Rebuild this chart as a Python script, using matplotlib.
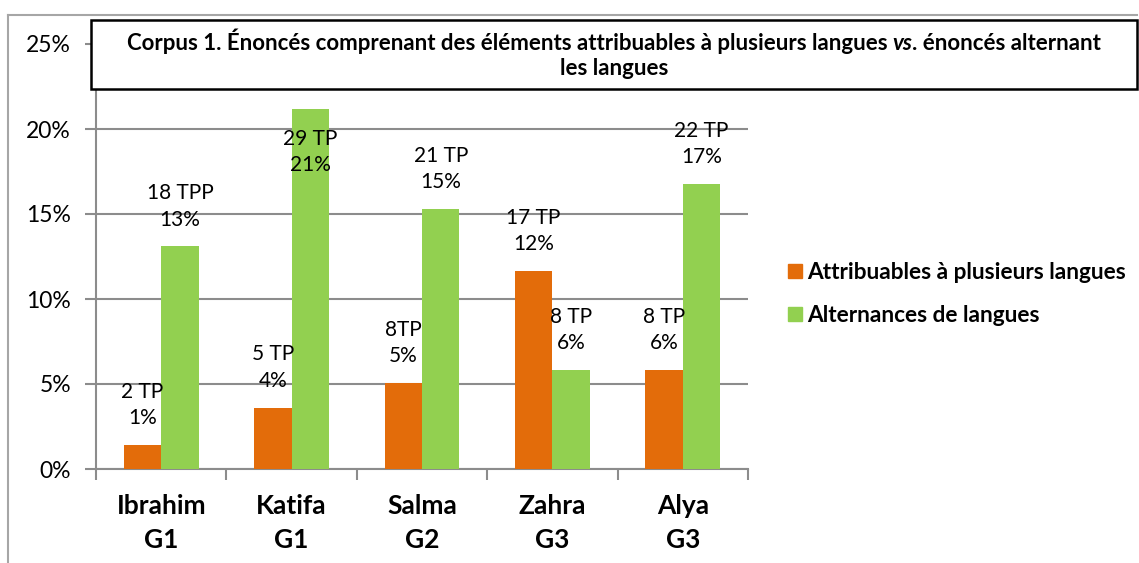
import numpy as np
import matplotlib
matplotlib.use("Agg")
import matplotlib.pyplot as plt
from matplotlib.patches import Rectangle
from matplotlib.lines import Line2D

plt.rcParams["font.family"] = ["Lato", "DejaVu Sans"]

categories = ["Ibrahim\nG1", "Katifa\nG1", "Salma\nG2", "Zahra\nG3", "Alya\nG3"]
attribuables = [1.41, 3.61, 5.05, 11.66, 5.82]
alternances = [13.1, 21.17, 15.31, 5.82, 16.75]
tp_attribuables = ["2 TP", "5 TP", "8TP", "17 TP", "8 TP"]
pct_attribuables = ["1%", "4%", "5%", "12%", "6%"]
tp_alternances = ["18 TPP", "29 TP", "21 TP", "8 TP", "22 TP"]
pct_alternances = ["13%", "21%", "15%", "6%", "17%"]
series_names = ["Attribuables à plusieurs langues", "Alternances de langues"]
yticks = [0, 5, 10, 15, 20, 25]

orange = "#E36C0A"
green = "#92D050"
grey = "#8C8C8C"

W, H = 1139, 563
fig = plt.figure(figsize=(W / 100, H / 100), dpi=100)
ax = fig.add_axes([96 / W, 1 - 469 / H, (748 - 96) / W, (469 - 44) / H])

x = np.arange(len(categories))
bw = 0.2875
b1 = ax.bar(x - bw / 2, attribuables, bw, color=orange, label=series_names[0], zorder=3)
b2 = ax.bar(x + bw / 2, alternances, bw, color=green, label=series_names[1], zorder=3)

ax.set_xlim(-0.5, len(categories) - 0.5)
ax.set_ylim(0, 25)
ax.set_yticks(yticks)
ax.set_yticklabels([f"{t}%" for t in yticks], fontsize=16.5)
ax.yaxis.grid(True, color=grey, linewidth=1.5, zorder=0)
ax.set_xticks(x)
ax.set_xticklabels(categories, fontsize=19, fontweight="bold", linespacing=1.5)
ax.set_xticks(np.arange(-0.5, len(categories)), minor=True)
ax.tick_params(axis="x", which="major", length=0, pad=18)
ax.tick_params(axis="x", which="minor", length=8, width=1.5, color=grey)
ax.tick_params(axis="y", length=8, width=1.5, color=grey, pad=10)
for s in ["top", "right"]:
    ax.spines[s].set_visible(False)
for s in ["left", "bottom"]:
    ax.spines[s].set_color(grey)
    ax.spines[s].set_linewidth(1.5)

# data labels, 40 px above the bar, or inside when it would hit the title
def labels(bars, vals, tps, pcts):
    for b, v, t, p in zip(bars, vals, tps, pcts):
        off = 40 if v < 19 else -43
        ax.annotate(t + "\n" + p, (b.get_x() + b.get_width() / 2, v),
                    xytext=(0, off), textcoords="offset pixels",
                    ha="center", va="center", fontsize=15, linespacing=1.4,
                    zorder=5)

labels(b1, attribuables, tp_attribuables, pct_attribuables)
labels(b2, alternances, tp_alternances, pct_alternances)

# legend
handles = [Rectangle((0, 0), 1, 1, color=orange), Rectangle((0, 0), 1, 1, color=green)]
leg = fig.legend(handles, series_names, loc="center left",
                 bbox_to_anchor=(768 / W, 1 - 294 / H), frameon=False,
                 prop={"size": 16.3, "weight": "bold"}, handlelength=0.6,
                 handleheight=0.6, handletextpad=0.25, labelspacing=0.95)

# outer chart border
fig.add_artist(Line2D([8 / W, 8 / W], [0, 1 - 14.5 / H], color="#A6A6A6",
                      linewidth=1.5, transform=fig.transFigure))
fig.add_artist(Line2D([8 / W, 1137 / W], [1 - 14.5 / H, 1 - 14.5 / H], color="#A6A6A6",
                      linewidth=1.5, transform=fig.transFigure))

# title box
fig.add_artist(Rectangle((91 / W, 1 - 88.5 / H), (1137 - 91) / W, (88.5 - 20.5) / H,
                         facecolor="white", edgecolor="black", linewidth=1.8,
                         transform=fig.transFigure, zorder=10))

parts = [("Corpus 1. Énoncés comprenant des éléments attribuables à plusieurs langues ", "normal"),
         ("vs", "italic"),
         (". énoncés alternant", "normal")]
renderer = fig.canvas.get_renderer()
texts = []
for s, st in parts:
    t = fig.text(0, 1 - 50 / H, s, fontsize=16, fontweight="bold", style=st,
                 va="baseline", ha="left", zorder=11)
    texts.append(t)
widths = [t.get_window_extent(renderer).width for t in texts]
cx = 614
start = cx - sum(widths) / 2
for t, w in zip(texts, widths):
    t.set_x(start / W)
    start += w
fig.text(cx / W, 1 - 75 / H, "les langues", fontsize=16, fontweight="bold",
         va="baseline", ha="center", zorder=11)

fig.savefig("out.png", dpi=100)
